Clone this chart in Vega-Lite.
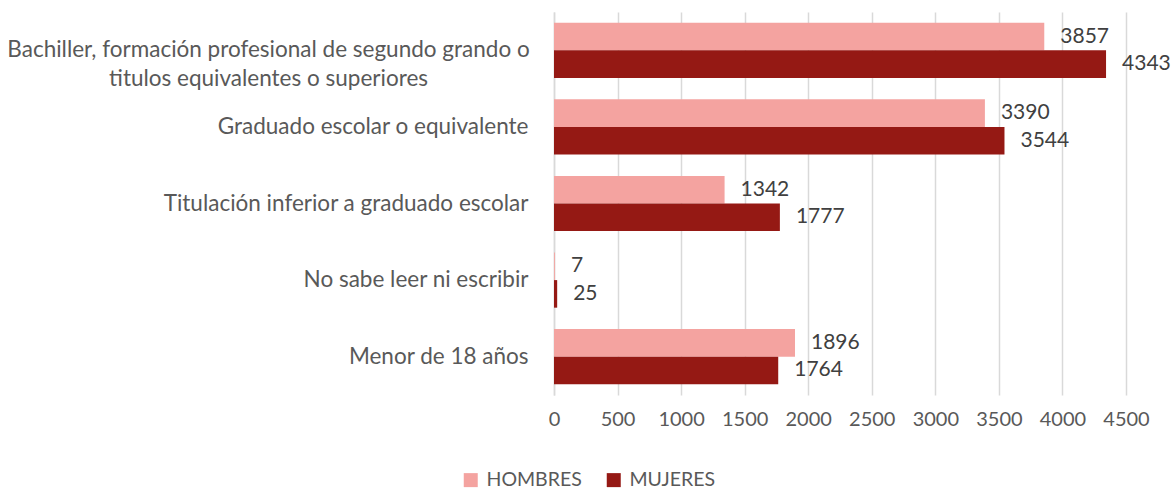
{
  "$schema": "https://vega.github.io/schema/vega-lite/v6.json",
  "width": 572,
  "height": 383,
  "autosize": {"type": "none"},
  "padding": {"left": 554, "top": 12, "right": 48, "bottom": 94},
  "background": "white",
  "config": {
    "font": "Lato",
    "view": {"stroke": null}
  },
  "data": {
    "values": [
      {"nivel": "Bachiller, formación profesional de segundo grando o titulos equivalentes o superiores", "sexo": "HOMBRES", "valor": 3857},
      {"nivel": "Bachiller, formación profesional de segundo grando o titulos equivalentes o superiores", "sexo": "MUJERES", "valor": 4343},
      {"nivel": "Graduado escolar o equivalente", "sexo": "HOMBRES", "valor": 3390},
      {"nivel": "Graduado escolar o equivalente", "sexo": "MUJERES", "valor": 3544},
      {"nivel": "Titulación inferior a graduado escolar", "sexo": "HOMBRES", "valor": 1342},
      {"nivel": "Titulación inferior a graduado escolar", "sexo": "MUJERES", "valor": 1777},
      {"nivel": "No sabe leer ni escribir", "sexo": "HOMBRES", "valor": 7},
      {"nivel": "No sabe leer ni escribir", "sexo": "MUJERES", "valor": 25},
      {"nivel": "Menor de 18 años", "sexo": "HOMBRES", "valor": 1896},
      {"nivel": "Menor de 18 años", "sexo": "MUJERES", "valor": 1764}
    ]
  },
  "encoding": {
    "y": {
      "field": "nivel",
      "type": "nominal",
      "sort": null,
      "title": null,
      "scale": {"paddingInner": 0.28, "paddingOuter": 0.14},
      "axis": {
        "domain": true,
        "domainColor": "#d9d9d9",
        "domainWidth": 1.5,
        "ticks": false,
        "labelPadding": {"condition": {"test": "indexof(datum.value, 'Bachiller') == 0", "value": 286}, "value": 26},
        "labelAlign": {"condition": {"test": "indexof(datum.value, 'Bachiller') == 0", "value": "center"}, "value": "right"},
        "labelFontSize": 22.5,
        "labelColor": "#595959",
        "labelLimit": 0,
        "labelLineHeight": 29,
        "labelExpr": "indexof(datum.value, 'Bachiller') == 0 ? ['Bachiller, formación profesional de segundo grando o', 'titulos equivalentes o superiores'] : datum.value"
      }
    },
    "yOffset": {
      "field": "sexo",
      "type": "nominal",
      "sort": ["HOMBRES", "MUJERES"],
      "scale": {"paddingInner": 0, "paddingOuter": 0}
    },
    "x": {
      "field": "valor",
      "type": "quantitative",
      "title": null,
      "scale": {"domain": [0, 4500], "nice": false},
      "axis": {
        "values": [0, 500, 1000, 1500, 2000, 2500, 3000, 3500, 4000, 4500],
        "format": "d",
        "labelOverlap": false,
        "labelFlush": false,
        "labelBound": false,
        "grid": true,
        "gridColor": "#d9d9d9",
        "gridWidth": 1.5,
        "domain": false,
        "ticks": false,
        "labelPadding": 14,
        "labelFontSize": 20,
        "labelColor": "#595959"
      }
    }
  },
  "layer": [
    {
      "mark": {"type": "bar"},
      "encoding": {
        "color": {
          "field": "sexo",
          "type": "nominal",
          "sort": ["HOMBRES", "MUJERES"],
          "scale": {"domain": ["HOMBRES", "MUJERES"], "range": ["#F4A3A0", "#951914"]},
          "legend": {
            "title": null,
            "orient": "none",
            "direction": "horizontal",
            "legendX": -93,
            "legendY": 458,
            "symbolType": "square",
            "symbolSize": 196,
            "symbolStrokeWidth": 0,
            "labelFontSize": 19.5,
            "labelColor": "#595959",
            "labelOffset": 6,
            "columnPadding": 22
          }
        }
      }
    },
    {
      "mark": {"type": "text", "align": "left", "baseline": "middle", "dx": 16, "fontSize": 21, "color": "#404040"},
      "encoding": {
        "text": {"field": "valor", "type": "quantitative"}
      }
    }
  ]
}
